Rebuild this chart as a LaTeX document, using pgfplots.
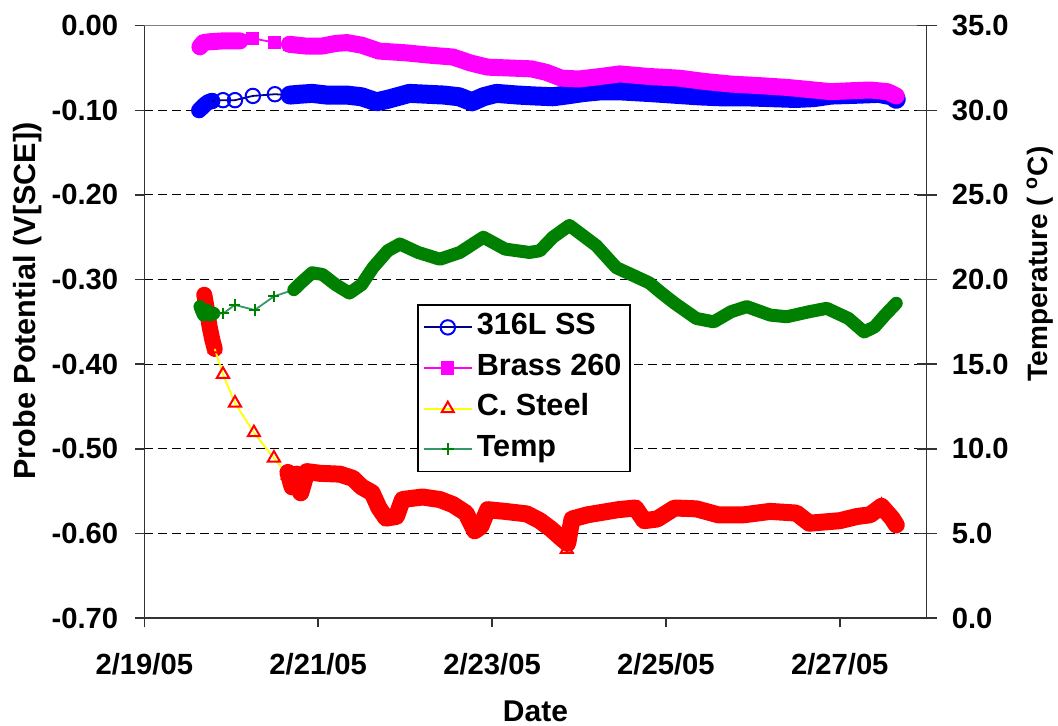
\documentclass[border=0pt]{standalone}
\usepackage{pgfplots}
\pgfplotsset{compat=1.18}
\usepackage{fontspec}
\setmainfont{Liberation Sans}
\definecolor{ssline}{HTML}{000080}
\definecolor{ssmark}{HTML}{0000FF}
\definecolor{brass}{HTML}{FF00FF}
\definecolor{csline}{HTML}{FFFF00}
\definecolor{csmark}{HTML}{FF0000}
\definecolor{tline}{HTML}{339966}
\definecolor{tmark}{HTML}{008000}
\newcommand{\tickfont}{\fontsize{14.6}{17.5}\selectfont\bfseries}
\newcommand{\legfont}{\fontsize{15.3}{18.4}\selectfont\bfseries}
\pgfplotsset{
  common/.style={
    scale only axis, width=391.2pt, height=296.15pt,
    xmin=0, xmax=9,
    axis line style={black!80, line width=0.75pt},
    tick style={black!80, line width=0.75pt},
    tick label style={font=\tickfont},
  },
  band/.style={line width=#1, line cap=round, line join=round, forget plot},
}
\begin{document}
\tickfont
\begin{tikzpicture}
\useasboundingbox (-72.15pt,-54pt) rectangle (456.85pt,309pt);
\begin{axis}[
  common,
  ymin=-0.7, ymax=0,
  xtick={0,2,4,6,8},
  xticklabels={2/19/05,2/21/05,2/23/05,2/25/05,2/27/05},
  ytick={-0.7,-0.6,-0.5,-0.4,-0.3,-0.2,-0.1,0},
  yticklabels={-0.70,-0.60,-0.50,-0.40,-0.30,-0.20,-0.10,0.00},
  xtick pos=left, ytick pos=left,
  tick align=outside, major tick length=4.75pt,
  xticklabel style={yshift=-8pt},
  yticklabel style={xshift=-3.25pt},
  ymajorgrids,
  major grid style={black, line width=0.5pt, dash pattern=on 4.5pt off 2.5pt},
  xlabel={Date},
  ylabel={Probe Potential (V[SCE])},
  every axis x label/.style={at={(axis description cs:0.5,-0.157)}, anchor=center, font=\fontsize{15}{18}\selectfont\bfseries},
  every axis y label/.style={at={(axis description cs:-0.1493,0.5352)}, anchor=center, rotate=90, font=\fontsize{15.3}{18.4}\selectfont\bfseries},
]
% 316L SS
\addplot[ssmark, band=8pt] coordinates {(0.63,-0.100) (0.66,-0.097) (0.70,-0.093) (0.74,-0.090) (0.78,-0.089)};
\addplot[ssline, line width=0.9pt, mark=o, mark size=3.6pt, mark options={ssmark, line width=1pt}, forget plot] coordinates {(0.78,-0.089) (0.905,-0.088) (1.043,-0.088) (1.249,-0.083) (1.502,-0.081) (1.675,-0.082)};
\addplot[ssmark, band=9.5pt] coordinates {(1.675,-0.082) (1.79,-0.081) (1.93,-0.080) (2.10,-0.082) (2.33,-0.082) (2.50,-0.084) (2.67,-0.090) (2.80,-0.087) (3.05,-0.080) (3.25,-0.081) (3.45,-0.082) (3.62,-0.084) (3.77,-0.090) (3.90,-0.084) (4.05,-0.080) (4.30,-0.082) (4.48,-0.083) (4.70,-0.084) (4.85,-0.082) (5.05,-0.079) (5.25,-0.077) (5.47,-0.077) (5.81,-0.079) (6.10,-0.081) (6.39,-0.083) (6.62,-0.084) (6.90,-0.084) (7.20,-0.085) (7.49,-0.086) (7.70,-0.085) (7.90,-0.082) (8.20,-0.081) (8.45,-0.080) (8.60,-0.083) (8.65,-0.087)};
% Brass 260
\addplot[brass, band=8.5pt] coordinates {(0.64,-0.025) (0.68,-0.020) (0.75,-0.019) (0.90,-0.018) (1.10,-0.018)};
\addplot[brass, line width=0.9pt, mark=square*, mark size=2.8pt, forget plot] coordinates {(1.10,-0.018) (1.249,-0.015) (1.502,-0.020) (1.67,-0.022)};
\addplot[brass, band=8.5pt] coordinates {(1.67,-0.022) (1.85,-0.024) (2.05,-0.024) (2.20,-0.021) (2.33,-0.020) (2.50,-0.023) (2.70,-0.030) (3.00,-0.032) (3.30,-0.035) (3.55,-0.037) (3.75,-0.044) (3.95,-0.049) (4.20,-0.050) (4.45,-0.051) (4.62,-0.055) (4.80,-0.062) (5.00,-0.063) (5.25,-0.060) (5.47,-0.057) (5.80,-0.060) (6.15,-0.062) (6.45,-0.066) (6.75,-0.069) (7.10,-0.071) (7.40,-0.073) (7.70,-0.076) (7.90,-0.078) (8.10,-0.077) (8.35,-0.076) (8.55,-0.078) (8.65,-0.083)};
% C. Steel
\addplot[csmark, band=8pt] coordinates {(0.69,-0.318) (0.72,-0.335) (0.75,-0.355) (0.78,-0.370) (0.81,-0.382)};
\addplot[csline, line width=0.9pt, mark=triangle, mark size=3.5pt, mark options={csmark, line width=1pt}, forget plot] coordinates {(0.81,-0.382) (0.905,-0.412) (1.043,-0.446) (1.261,-0.481) (1.491,-0.511) (1.652,-0.531)};
\addplot[csmark, band=8.5pt] coordinates {(1.652,-0.528) (1.70,-0.545) (1.75,-0.530) (1.80,-0.552) (1.87,-0.527) (2.02,-0.529) (2.25,-0.530) (2.40,-0.535) (2.50,-0.545) (2.62,-0.552) (2.70,-0.570) (2.78,-0.582) (2.90,-0.580) (2.97,-0.560) (3.20,-0.557) (3.40,-0.560) (3.55,-0.566) (3.70,-0.576) (3.80,-0.597) (3.87,-0.592) (3.95,-0.572) (4.15,-0.574) (4.40,-0.577) (4.55,-0.585) (4.68,-0.595) (4.80,-0.606) (4.87,-0.612) (4.92,-0.583) (5.10,-0.578) (5.45,-0.572) (5.65,-0.570) (5.75,-0.585) (5.90,-0.583) (6.10,-0.570) (6.35,-0.571) (6.60,-0.578) (6.90,-0.578) (7.20,-0.574) (7.50,-0.576) (7.65,-0.588) (8.00,-0.585) (8.20,-0.580) (8.35,-0.578) (8.48,-0.568) (8.60,-0.582) (8.65,-0.590)};
\addplot[csmark, only marks, mark=triangle, mark size=3.5pt, line width=1pt, forget plot] coordinates {(4.86,-0.619) (8.48,-0.567)};
\draw[gray, line width=0.75pt] (rel axis cs:0,1) -- (rel axis cs:1,1);
\end{axis}
\begin{axis}[
  common,
  ymin=0, ymax=35,
  axis x line=none, axis y line*=right,
  y axis line style={-},
  ytick={0,5,10,15,20,25,30,35},
  yticklabels={0.0,5.0,10.0,15.0,20.0,25.0,30.0,35.0},
  yticklabel style={xshift=2.5pt},
  tick align=center, major tick length=10pt,
  ylabel={Temperature ( \textsuperscript{o}C)},
  every axis y label/.style={at={(axis description cs:1.1448,0.5977)}, anchor=center, rotate=90, font=\fontsize{14}{16.8}\selectfont\bfseries},
  legend style={at={(0.349,0.5296)}, anchor=north west, draw=black, line width=0.75pt,
    font=\legfont, inner xsep=2.35pt, inner ysep=1pt, row sep=0pt,
    nodes={inner xsep=2pt, inner ysep=3.3pt, text height=0.72em, text depth=0.22em},
    cells={anchor=west}},
  legend image code/.code={\draw[mark repeat=2,mark phase=2,#1] plot coordinates {(0pt,0pt) (12pt,0pt) (24pt,0pt)};},
]
\addplot[tmark, band=6.5pt] coordinates {(0.64,18.4) (0.68,17.9) (0.72,18.2) (0.76,17.9) (0.80,18.0)};
\addplot[tline, line width=0.9pt, mark=+, mark size=2.8pt, mark options={tmark, line width=1pt}, forget plot] coordinates {(0.80,18.0) (0.91,18.0) (1.04,18.5) (1.27,18.2) (1.49,19.0) (1.72,19.4)};
\addplot[tmark, band=6.5pt] coordinates {(1.72,19.4) (1.80,19.8) (1.93,20.4) (2.05,20.3) (2.20,19.7) (2.36,19.2) (2.50,19.7) (2.63,20.7) (2.80,21.7) (2.94,22.1) (3.15,21.6) (3.40,21.2) (3.63,21.6) (3.90,22.5) (4.15,21.8) (4.43,21.6) (4.55,21.7) (4.70,22.5) (4.89,23.2) (5.20,22.0) (5.43,20.7) (5.60,20.3) (5.81,19.8) (5.95,19.2) (6.10,18.6) (6.35,17.7) (6.55,17.5) (6.75,18.1) (6.93,18.4) (7.20,17.9) (7.39,17.8) (7.65,18.1) (7.85,18.3) (8.10,17.7) (8.28,16.9) (8.40,17.2) (8.52,17.9) (8.65,18.6)};
\addlegendimage{ssline, line width=1pt, mark=o, mark size=3.6pt, mark options={ssmark, line width=1pt}}
\addlegendimage{brass, line width=1pt, mark=square*, mark size=2.8pt}
\addlegendimage{csline, line width=1pt, mark=triangle, mark size=3.5pt, mark options={csmark, line width=1pt}}
\addlegendimage{tline, line width=1pt, mark=+, mark size=3pt, mark options={tmark, line width=1pt}}
\legend{316L SS, Brass 260, C. Steel, Temp}
\end{axis}
\end{tikzpicture}
\end{document}
